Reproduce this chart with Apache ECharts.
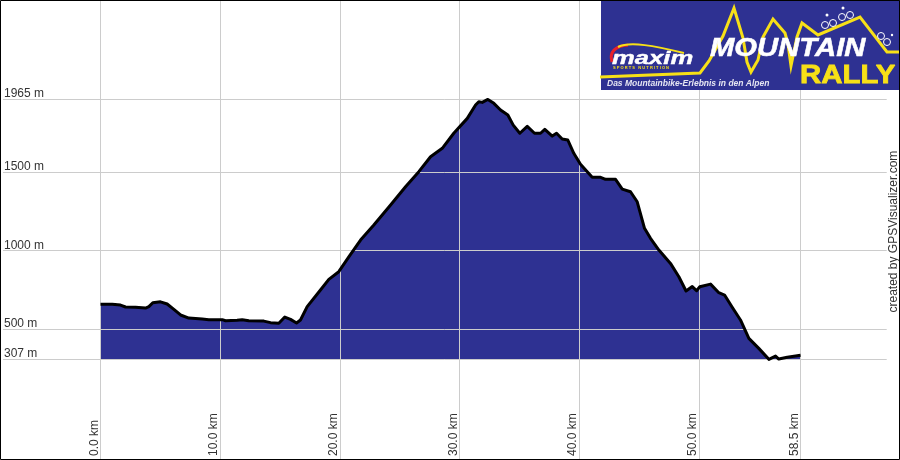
<!DOCTYPE html>
<html>
<head>
<meta charset="utf-8">
<title>Mountain Rally</title>
<script src="https://cdn.jsdelivr.net/npm/echarts@6/dist/echarts.min.js"></script>
<style>
  html, body { margin: 0; padding: 0; background: #fff; }
  #chart { width: 900px; height: 460px; }
</style>
</head>
<body>
<div id="chart"></div>
<script>
  // distance in km
  var distanceKm = [0, 0.98, 1.67, 2.09, 2.92, 3.76, 4.04, 4.37, 5.01, 5.57, 6.13, 6.69, 7.38, 8.5, 9.05,
    10.17, 10.45, 11.42, 11.84, 12.39, 13.65, 14.21, 14.9, 15.4, 15.88, 16.38, 16.71, 17.27, 18.38, 19.08,
    19.91, 20.75, 21.73, 22.84, 24.24, 25.49, 26.6, 27.58, 28.56, 29.52, 30.65, 31.34, 31.61, 31.9, 32.37,
    32.87, 33.43, 34.04, 34.49, 35.04, 35.66, 36.27, 36.77, 37.13, 37.75, 38.11, 38.58, 39.05, 39.55, 40.11,
    41.09, 41.79, 42.2, 43.04, 43.6, 44.29, 44.85, 45.46, 45.96, 46.66, 47.63, 48.33, 48.93, 49.45, 49.81,
    50.08, 50.98, 51.67, 52.15, 52.79, 53.48, 54.18, 55.01, 55.85, 56.41, 56.68, 57.39, 58.5]
  // elevation in m
  var elevationM = [656, 656, 651, 639, 637, 632, 641, 666, 672, 658, 624, 588, 568, 562, 558,
    558, 551, 554, 558, 551, 549, 539, 535, 575, 560, 537, 556, 641, 747, 815,
    864, 959, 1066, 1162, 1289, 1406, 1502, 1597, 1651, 1747, 1842, 1927, 1948, 1944, 1963,
    1938, 1895, 1863, 1799, 1747, 1791, 1747, 1747, 1772, 1729, 1747, 1710, 1704, 1619, 1549,
    1466, 1466, 1453, 1453, 1391, 1374, 1310, 1141, 1077, 1002, 917, 832, 741, 769, 743,
    768, 785, 730, 715, 637, 556, 439, 375, 305, 326, 307, 318, 331]
  var xTicks = [0, 10, 20, 30, 40, 50, 58.5]
  var yTicks = [307, 500, 1000, 1500, 1965]

  // axis ranges run past the data so the grid lines reach the page edges
  var xMin = -8.399
  var xMax = 66.81
  var yMin = -337
  var yMax = 2597
  var hLineStart = -8.15
  var hLineEnd = 65.7

  var profile = distanceKm.map(function (km, i) {
    return [km, elevationM[i]]
  })

  var gridLines = []
  xTicks.forEach(function (km) {
    gridLines.push([{coord: [km, yMax]}, {coord: [km, yMin]}])
  })
  yTicks.forEach(function (m) {
    gridLines.push([{coord: [hLineStart, m]}, {coord: [hLineEnd, m]}])
  })

  var yellow = '#f7e017'
  var banner = [
    {type: 'rect', shape: {x: 601, y: 0, width: 299, height: 90}, style: {fill: '#2e3192'}},
    {
      type: 'polyline',
      shape: {points: [[600, 77], [700, 73], [709, 61], [723, 36], [734, 8], [743, 38], [747, 62], [751, 72], [758, 60], [763, 37], [773, 19], [785, 33], [788, 44], [791, 66], [797, 37], [802, 23], [818, 35], [860, 17], [887, 52], [900, 52]]},
      style: {stroke: yellow, lineWidth: 3, fill: null}
    },
    {type: 'circle', shape: {cx: 825, cy: 25, r: 3.5}, style: {stroke: '#fff', lineWidth: 1, fill: null}},
    {type: 'circle', shape: {cx: 833, cy: 23, r: 3.5}, style: {stroke: '#fff', lineWidth: 1, fill: null}},
    {type: 'circle', shape: {cx: 827, cy: 15, r: 1.5}, style: {fill: '#fff'}},
    {type: 'circle', shape: {cx: 842, cy: 17, r: 3.5}, style: {stroke: '#fff', lineWidth: 1, fill: null}},
    {type: 'circle', shape: {cx: 850, cy: 15, r: 3.5}, style: {stroke: '#fff', lineWidth: 1, fill: null}},
    {type: 'circle', shape: {cx: 843, cy: 8, r: 1.5}, style: {fill: '#fff'}},
    {type: 'circle', shape: {cx: 881, cy: 36, r: 3.5}, style: {stroke: '#fff', lineWidth: 1, fill: null}},
    {type: 'circle', shape: {cx: 887, cy: 42, r: 3.5}, style: {stroke: '#fff', lineWidth: 1, fill: null}},
    {type: 'circle', shape: {cx: 892, cy: 35, r: 1.2}, style: {fill: '#fff'}},
    {
      type: 'bezierCurve',
      shape: {x1: 612, y1: 62, x2: 628, y2: 45, cpx1: 609, cpy1: 52, cpx2: 615, cpy2: 46},
      style: {stroke: '#e8212b', lineWidth: 3, fill: null}
    },
    {
      type: 'bezierCurve',
      shape: {x1: 618, y1: 47, x2: 684, y2: 53, cpx1: 630, cpy1: 41, cpx2: 655, cpy2: 46},
      style: {stroke: yellow, lineWidth: 2, fill: null}
    },
    {type: 'text', x: 612, y: 49, scaleX: 1.35, style: {text: 'maxim', fill: '#fff', stroke: '#fff', lineWidth: 0.4, font: 'italic bold 19px "Liberation Sans"'}},
    {type: 'text', x: 613, y: 66, style: {text: 'S P O R T S   N U T R I T I O N', fill: yellow, font: 'bold 4px "Liberation Sans"'}},
    {type: 'text', x: 710, y: 37, scaleX: 1.17, style: {text: 'MOUNTAIN', fill: '#fff', stroke: '#fff', lineWidth: 0.5, font: 'italic bold 25px "Liberation Sans"'}},
    {type: 'text', x: 800, y: 63, scaleX: 1.13, style: {text: 'RALLY', fill: yellow, stroke: yellow, lineWidth: 0.8, font: 'bold 26px "Liberation Sans"'}},
    {type: 'text', x: 607, y: 79, style: {text: 'Das Mountainbike-Erlebnis in den Alpen', fill: '#e6e6f2', font: 'italic bold 8.5px "Liberation Sans"'}}
  ]
  banner.forEach(function (el) {
    el.z = 20
    el.silent = true
  })

  var myChart = echarts.init(document.getElementById('chart'), null, {renderer: 'canvas'})
  var option = {
    animation: false,
    backgroundColor: '#fff',
    grid: {left: 0, right: 0, top: 0, bottom: 0},
    xAxis: {
      type: 'value',
      min: xMin,
      max: xMax,
      axisLine: {show: false},
      axisTick: {show: false},
      splitLine: {show: false},
      axisLabel: {
        inside: true,
        customValues: xTicks,
        rotate: 90,
        align: 'left',
        verticalAlign: 'bottom',
        margin: 4,
        color: '#333',
        fontFamily: 'Liberation Sans',
        fontSize: 12,
        formatter: function (v) {
          return v.toFixed(1) + ' km'
        }
      }
    },
    yAxis: {
      type: 'value',
      min: yMin,
      max: yMax,
      axisLine: {show: false},
      axisTick: {show: false},
      splitLine: {show: false},
      axisLabel: {
        inside: true,
        customValues: yTicks,
        align: 'left',
        verticalAlign: 'bottom',
        margin: 4,
        lineHeight: 10,
        color: '#333',
        fontFamily: 'Liberation Sans',
        fontSize: 12,
        formatter: function (v) {
          return v + ' m'
        }
      }
    },
    series: [
      {
        name: 'area',
        type: 'line',
        data: profile,
        showSymbol: false,
        silent: true,
        z: 2,
        lineStyle: {width: 0},
        areaStyle: {color: '#2e3192', opacity: 1, origin: 307},
        markLine: {
          silent: true,
          symbol: 'none',
          label: {show: false},
          lineStyle: {color: '#cccccc', type: 'solid', width: 1},
          data: gridLines
        }
      },
      {
        name: 'profile',
        type: 'line',
        data: profile,
        showSymbol: false,
        silent: true,
        z: 6,
        lineStyle: {color: '#000', width: 3, join: 'round'}
      }
    ],
    graphic: banner.concat([
      {
        type: 'text',
        silent: true,
        z: 20,
        x: 888,
        y: 312.5,
        rotation: Math.PI / 2,
        style: {text: 'created by GPSVisualizer.com', fill: '#333', font: '12px "Liberation Sans"'}
      },
      {
        type: 'rect',
        silent: true,
        z: 30,
        shape: {x: 0.5, y: 0.5, width: 899, height: 459},
        style: {stroke: '#000', lineWidth: 1, fill: null}
      }
    ])
  }
  myChart.setOption(option)
</script>
</body>
</html>
